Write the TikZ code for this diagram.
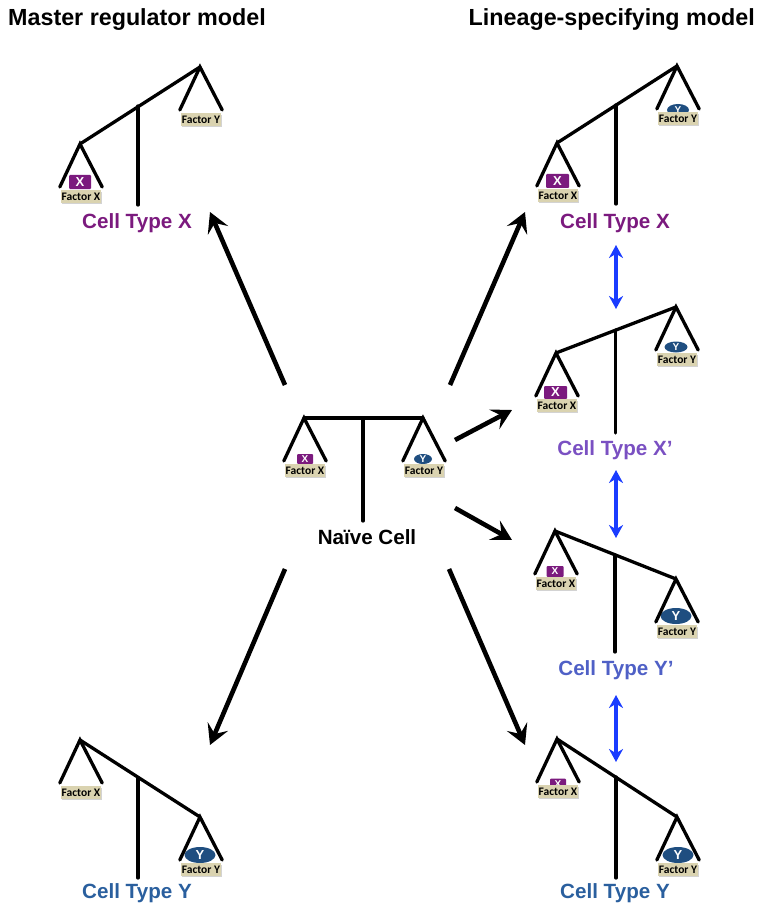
\documentclass[tikz,border=0pt]{standalone}
\usepackage{fontspec}
\setmainfont{Liberation Sans}
\newfontfamily\panfont{Carlito}
\usepackage{xcolor}
\usetikzlibrary{positioning}
\usetikzlibrary{calc}
\usetikzlibrary{arrows.meta}
\usetikzlibrary{shapes.geometric}
\usetikzlibrary{shadows}
\definecolor{factorx}{HTML}{7B1A7E}
\definecolor{factory}{HTML}{1F4E80}
\definecolor{primex}{HTML}{7A50C2}
\definecolor{primey}{HTML}{4F60C6}
\definecolor{typey}{HTML}{2A5F9E}
\definecolor{pantan}{HTML}{DAD3B0}
\definecolor{swapblue}{HTML}{1A3CFF}
\tikzset{
  beam/.style={line width=3.3pt, line cap=round},
  pan/.style={fill=pantan, minimum width=40pt, minimum height=12.5pt, inner sep=0pt,
    font=\panfont\bfseries\fontsize{11.5}{11.5}\selectfont,
    drop shadow={shadow xshift=0.6pt, shadow yshift=-1.4pt, opacity=0.35}},
  tokenx/.style={fill=factorx, rounded corners=1pt, inner sep=0pt, text=white,
    font=\bfseries\fontsize{13}{13}\selectfont},
  tokeny/.style={ellipse, fill=factory, inner sep=0pt, text=white,
    font=\bfseries\fontsize{13}{13}\selectfont},
  smalltoken/.style={font=\bfseries\fontsize{10}{10}\selectfont},
  move/.style={line width=4.6pt, -{Stealth[length=20pt, width=22pt, inset=8pt]}},
  swap/.style={line width=4pt, swapblue, {Stealth[length=13pt, width=14pt]}-{Stealth[length=13pt, width=14pt]}},
  celllabel/.style={font=\bfseries\fontsize{20.6}{20.6}\selectfont},
  title/.style={font=\bfseries\fontsize{23.3}{23.3}\selectfont, inner sep=0pt}
}
\begin{document}
\begin{tikzpicture}[x=1pt, y=-1pt]
  \useasboundingbox (0,0) rectangle (762,912);

  \node[title, anchor=base west] (t-master) at (8,26) {Master regulator model};
  \node[title, anchor=base east] (t-lineage) at (755,26) {Lineage-specifying model};

  % tokens go first, the pans sit on top of them
  \node[tokenx, minimum width=22pt, minimum height=14pt] (x-mx) at (80,182) {X};
  \node[tokenx, minimum width=23pt, minimum height=14pt] (x-lx) at (557.5,181) {X};
  \node[tokeny, smalltoken, minimum width=22pt, minimum height=12pt] (y-lx) at (678,110) {Y};
  \node[tokenx, minimum width=23pt, minimum height=13pt] (x-lxp) at (555.5,392.5) {X};
  \node[tokeny, smalltoken, minimum width=23pt, minimum height=11pt] (y-lxp) at (676,347) {Y};
  \node[tokenx, smalltoken, minimum width=17pt, minimum height=11pt] (x-lyp) at (555,571.5) {X};
  \node[tokeny, minimum width=31pt, minimum height=16pt] (y-lyp) at (676,616) {Y};
  \node[tokenx, smalltoken, minimum width=16pt, minimum height=11pt] (x-ly) at (558,784) {X};
  \node[tokeny, minimum width=31pt, minimum height=16pt] (y-ly) at (678,855) {Y};
  \node[tokeny, minimum width=31pt, minimum height=16pt] (y-my) at (200,855) {Y};
  \node[tokenx, smalltoken, minimum width=16pt, minimum height=10pt] (x-n) at (305,459) {X};
  \node[tokeny, smalltoken, minimum width=18pt, minimum height=10pt] (y-n) at (423,459) {Y};

  % name / left pivot / right pivot / stem top / stem bottom
  \foreach \sname/\lpt/\rpt/\stop/\sbot in {
    mx/{80,144}/{200,67}/{138,106}/{138,205},
    my/{80,740}/{200,817}/{138,778}/{138,878},
    n/{304,418}/{423,418}/{363,418}/{363,521},
    lx/{557,143}/{677,66}/{616,105}/{616,204},
    lxp/{556,353}/{676,307}/{615.5,330}/{615.5,433},
    lyp/{555,531}/{676,579}/{615,555}/{615,652},
    ly/{557,739}/{677,817}/{616,777}/{616,878}} {
    \coordinate (l-\sname) at (\lpt);
    \coordinate (r-\sname) at (\rpt);
    \coordinate (st-\sname) at (\stop);
    \coordinate (sb-\sname) at (\sbot);
    \node[pan, below=46pt of l-\sname, xshift=1pt] (fx-\sname) {Factor X};
    \node[pan, below=46pt of r-\sname, xshift=1pt] (fy-\sname) {Factor Y};
    \draw[beam] (l-\sname) -- (r-\sname);
    \draw[beam] (st-\sname) -- (sb-\sname);
    \draw[beam] ($(fx-\sname.north west)+(-1,-3)$) -- (l-\sname) -- ($(fx-\sname.north east)+(1,-3)$);
    \draw[beam] ($(fy-\sname.north west)+(-1,-3)$) -- (r-\sname) -- ($(fy-\sname.north east)+(1,-3)$);
  }

  \node[celllabel, text=factorx] (c-mx) at (137,223) {Cell Type X};
  \node[celllabel, text=typey] (c-my) at (137,893) {Cell Type Y};
  \node[celllabel] (c-n) at (367,537) {Naïve Cell};
  \node[celllabel, text=factorx] (c-lx) at (615,223) {Cell Type X};
  \node[celllabel, text=primex] (c-lxp) at (615,450) {Cell Type X’};
  \node[celllabel, text=primey] (c-lyp) at (616,670) {Cell Type Y’};
  \node[celllabel, text=typey] (c-ly) at (615,893) {Cell Type Y};

  \foreach \i/\afrom/\ato in {
    1/{285,385}/{210,212}, 2/{450,385}/{525,212}, 3/{455,440}/{512,410},
    4/{455,508}/{512,540}, 5/{285,569}/{210,745}, 6/{449,569}/{525,745}} {
    \coordinate (m-\i-a) at (\afrom);
    \coordinate (m-\i-b) at (\ato);
    \draw[move] (m-\i-a) -- (m-\i-b);
  }
  \foreach \i/\afrom/\ato in {1/{616,245}/{616,309}, 2/{616,470}/{616,538}, 3/{616,695}/{616,762}} {
    \coordinate (s-\i-a) at (\afrom);
    \coordinate (s-\i-b) at (\ato);
    \draw[swap] (s-\i-a) -- (s-\i-b);
  }
\end{tikzpicture}
\end{document}
